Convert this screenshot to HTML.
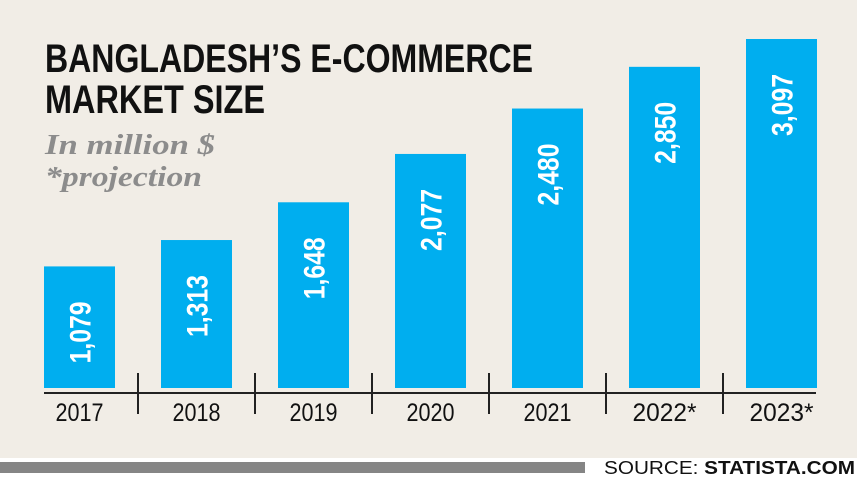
<!DOCTYPE html>
<html><head><meta charset="utf-8"><style>
html,body{margin:0;padding:0;background:#fff}
svg{display:block}
</style></head><body>
<svg width="857" height="482" viewBox="0 0 857 482" xmlns="http://www.w3.org/2000/svg">
<rect x="0" y="0" width="857" height="458" fill="#f1ede6"/>
<text x="45" y="72" font-family="Liberation Sans, sans-serif" font-weight="bold" font-size="40" textLength="488" lengthAdjust="spacingAndGlyphs" fill="#111">BANGLADESH’S E-COMMERCE</text>
<text x="45" y="113" font-family="Liberation Sans, sans-serif" font-weight="bold" font-size="40" textLength="220" lengthAdjust="spacingAndGlyphs" fill="#111">MARKET SIZE</text>
<text x="45" y="154" font-family="Liberation Serif, serif" font-weight="bold" font-style="italic" font-size="28" textLength="170" lengthAdjust="spacingAndGlyphs" fill="#8c8c8c">In million $</text>
<text x="45" y="186" font-family="Liberation Serif, serif" font-weight="bold" font-style="italic" font-size="28" textLength="157" lengthAdjust="spacingAndGlyphs" fill="#8c8c8c">*projection</text>
<g id="bars"></g>
<line x1="44" y1="393" x2="816" y2="393" stroke="#222" stroke-width="2"/>
<rect x="0" y="462" width="585" height="11" fill="#858585"/>
<text x="604" y="474" font-family="Liberation Sans, sans-serif" font-size="18" textLength="251" lengthAdjust="spacingAndGlyphs" fill="#111">SOURCE: <tspan font-weight="bold">STATISTA.COM</tspan></text>
</svg>
<script>
const categories = ["2017","2018","2019","2020","2021","2022*","2023*"];
const values = [1079,1313,1648,2077,2480,2850,3097];
const valueLabels = ["1,079","1,313","1,648","2,077","2,480","2,850","3,097"];
const NS="http://www.w3.org/2000/svg";
const g=document.getElementById('bars');
const baseY=388, scale=349/3097;
const x0=44, step=117, bw=71;
function xPos(i){return x0+i*step;}
function yPos(v){return baseY-v*scale;}
categories.forEach((c,i)=>{
  const x=xPos(i), y=yPos(values[i]);
  const r=document.createElementNS(NS,'rect');
  r.setAttribute('x',x);r.setAttribute('y',y);r.setAttribute('width',bw);r.setAttribute('height',baseY-y);r.setAttribute('fill','#00aeef');
  
  
  g.appendChild(r);
  const t=document.createElementNS(NS,'text');
  const cx=x+bw/2+11, ty=y+35;
  t.setAttribute('transform','translate('+cx+','+ty+') rotate(-90)');
  t.setAttribute('text-anchor','end');
  t.setAttribute('font-family','Liberation Sans, sans-serif');
  t.setAttribute('font-weight','bold');
  t.setAttribute('font-size','30');
  t.setAttribute('textLength','62');
  t.setAttribute('lengthAdjust','spacingAndGlyphs');
  t.setAttribute('fill','#fff');
  t.textContent=valueLabels[i];
  
  
  g.appendChild(t);
  const l=document.createElementNS(NS,'text');
  l.setAttribute('x',x+bw/2);l.setAttribute('y',421);
  l.setAttribute('text-anchor','middle');
  l.setAttribute('font-family','Liberation Sans, sans-serif');
  l.setAttribute('font-size','25');
  l.setAttribute('textLength',c.length>4?64:48);
  l.setAttribute('lengthAdjust','spacingAndGlyphs');
  l.setAttribute('fill','#111');
  l.textContent=c;
  
  
  g.appendChild(l);
  if(i<categories.length-1){
    const tk=document.createElementNS(NS,'line');
    const tx=x+bw+(step-bw)/2;
    tk.setAttribute('x1',tx);tk.setAttribute('x2',tx);tk.setAttribute('y1',373);tk.setAttribute('y2',414);
    tk.setAttribute('stroke','#222');tk.setAttribute('stroke-width','2');
    
    
    g.appendChild(tk);
  }
});
</script>
</body></html>
